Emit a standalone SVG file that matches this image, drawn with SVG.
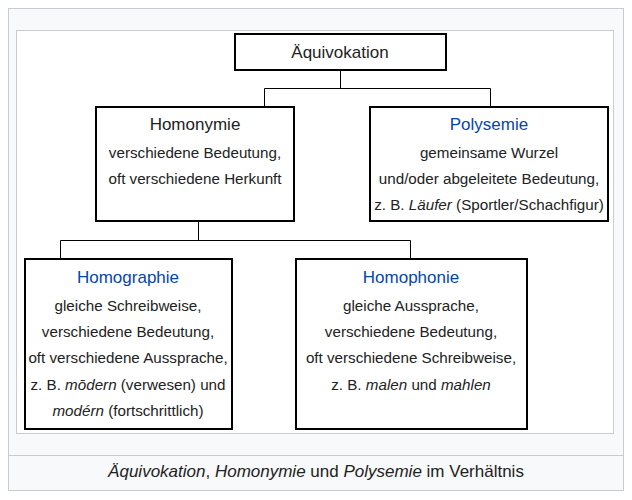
<svg xmlns="http://www.w3.org/2000/svg" width="632" height="500" viewBox="0 0 632 500">
<style>
text{font-family:"Liberation Sans",Arial,sans-serif;font-size:15.2px;fill:#222;text-anchor:middle}
.t{font-size:17px}
.l{fill:#0645ad}
.cap{font-size:17px}
.box{fill:#fff;stroke:#000;stroke-width:2}
.con{fill:none;stroke:#000;stroke-width:1}
</style>
<rect x="8.5" y="8.5" width="615" height="482" fill="#f8f9fa" stroke="#c8ccd1"/>
<rect x="16.5" y="30.5" width="597" height="403" fill="#fff" stroke="#c8ccd1"/>
<line x1="8.5" y1="455.5" x2="623.5" y2="455.5" stroke="#c8ccd1"/>
<text class="cap" x="316" y="477"><tspan font-style="italic">Äquivokation</tspan>, <tspan font-style="italic">Homonymie</tspan> und <tspan font-style="italic">Polysemie</tspan> im Verhältnis</text>
<g id="connectors">
<path class="con" d="M340.5 70V88.5M264.5 107V88.5H490.5V107"/>
<path class="con" d="M198.5 222V240.5M60.5 259V240.5H410.5V259"/>
</g>
<g id="aequivokation">
<rect class="box" x="235" y="34" width="211" height="36"/>
<text class="t" x="340" y="58">Äquivokation</text>
</g>
<g id="homonymie">
<rect class="box" x="96" y="107" width="198" height="114"/>
<text class="t" x="195" y="130">Homonymie</text>
<text x="195" y="158">verschiedene Bedeutung,</text>
<text x="195" y="184">oft verschiedene Herkunft</text>
</g>
<g id="polysemie">
<rect class="box" x="370" y="107" width="238" height="114"/>
<text class="t l" x="489" y="130">Polysemie</text>
<text x="489" y="158">gemeinsame Wurzel</text>
<text x="489" y="184">und/oder abgeleitete Bedeutung,</text>
<text x="489" y="210">z. B. <tspan font-style="italic">Läufer</tspan> (Sportler/Schachfigur)</text>
</g>
<g id="homographie">
<rect class="box" x="25" y="259" width="207" height="170"/>
<text class="t l" x="128" y="283">Homographie</text>
<text x="128" y="311">gleiche Schreibweise,</text>
<text x="128" y="337">verschiedene Bedeutung,</text>
<text x="128" y="363">oft verschiedene Aussprache,</text>
<text x="128" y="390">z. B. <tspan font-style="italic">mōdern</tspan> (verwesen) und</text>
<text x="128" y="416"><tspan font-style="italic">modérn</tspan> (fortschrittlich)</text>
</g>
<g id="homophonie">
<rect class="box" x="296" y="259" width="231" height="170"/>
<text class="t l" x="411" y="283">Homophonie</text>
<text x="411" y="311">gleiche Aussprache,</text>
<text x="411" y="337">verschiedene Bedeutung,</text>
<text x="411" y="363">oft verschiedene Schreibweise,</text>
<text x="411" y="390">z. B. <tspan font-style="italic">malen</tspan> und <tspan font-style="italic">mahlen</tspan></text>
</g>
</svg>
